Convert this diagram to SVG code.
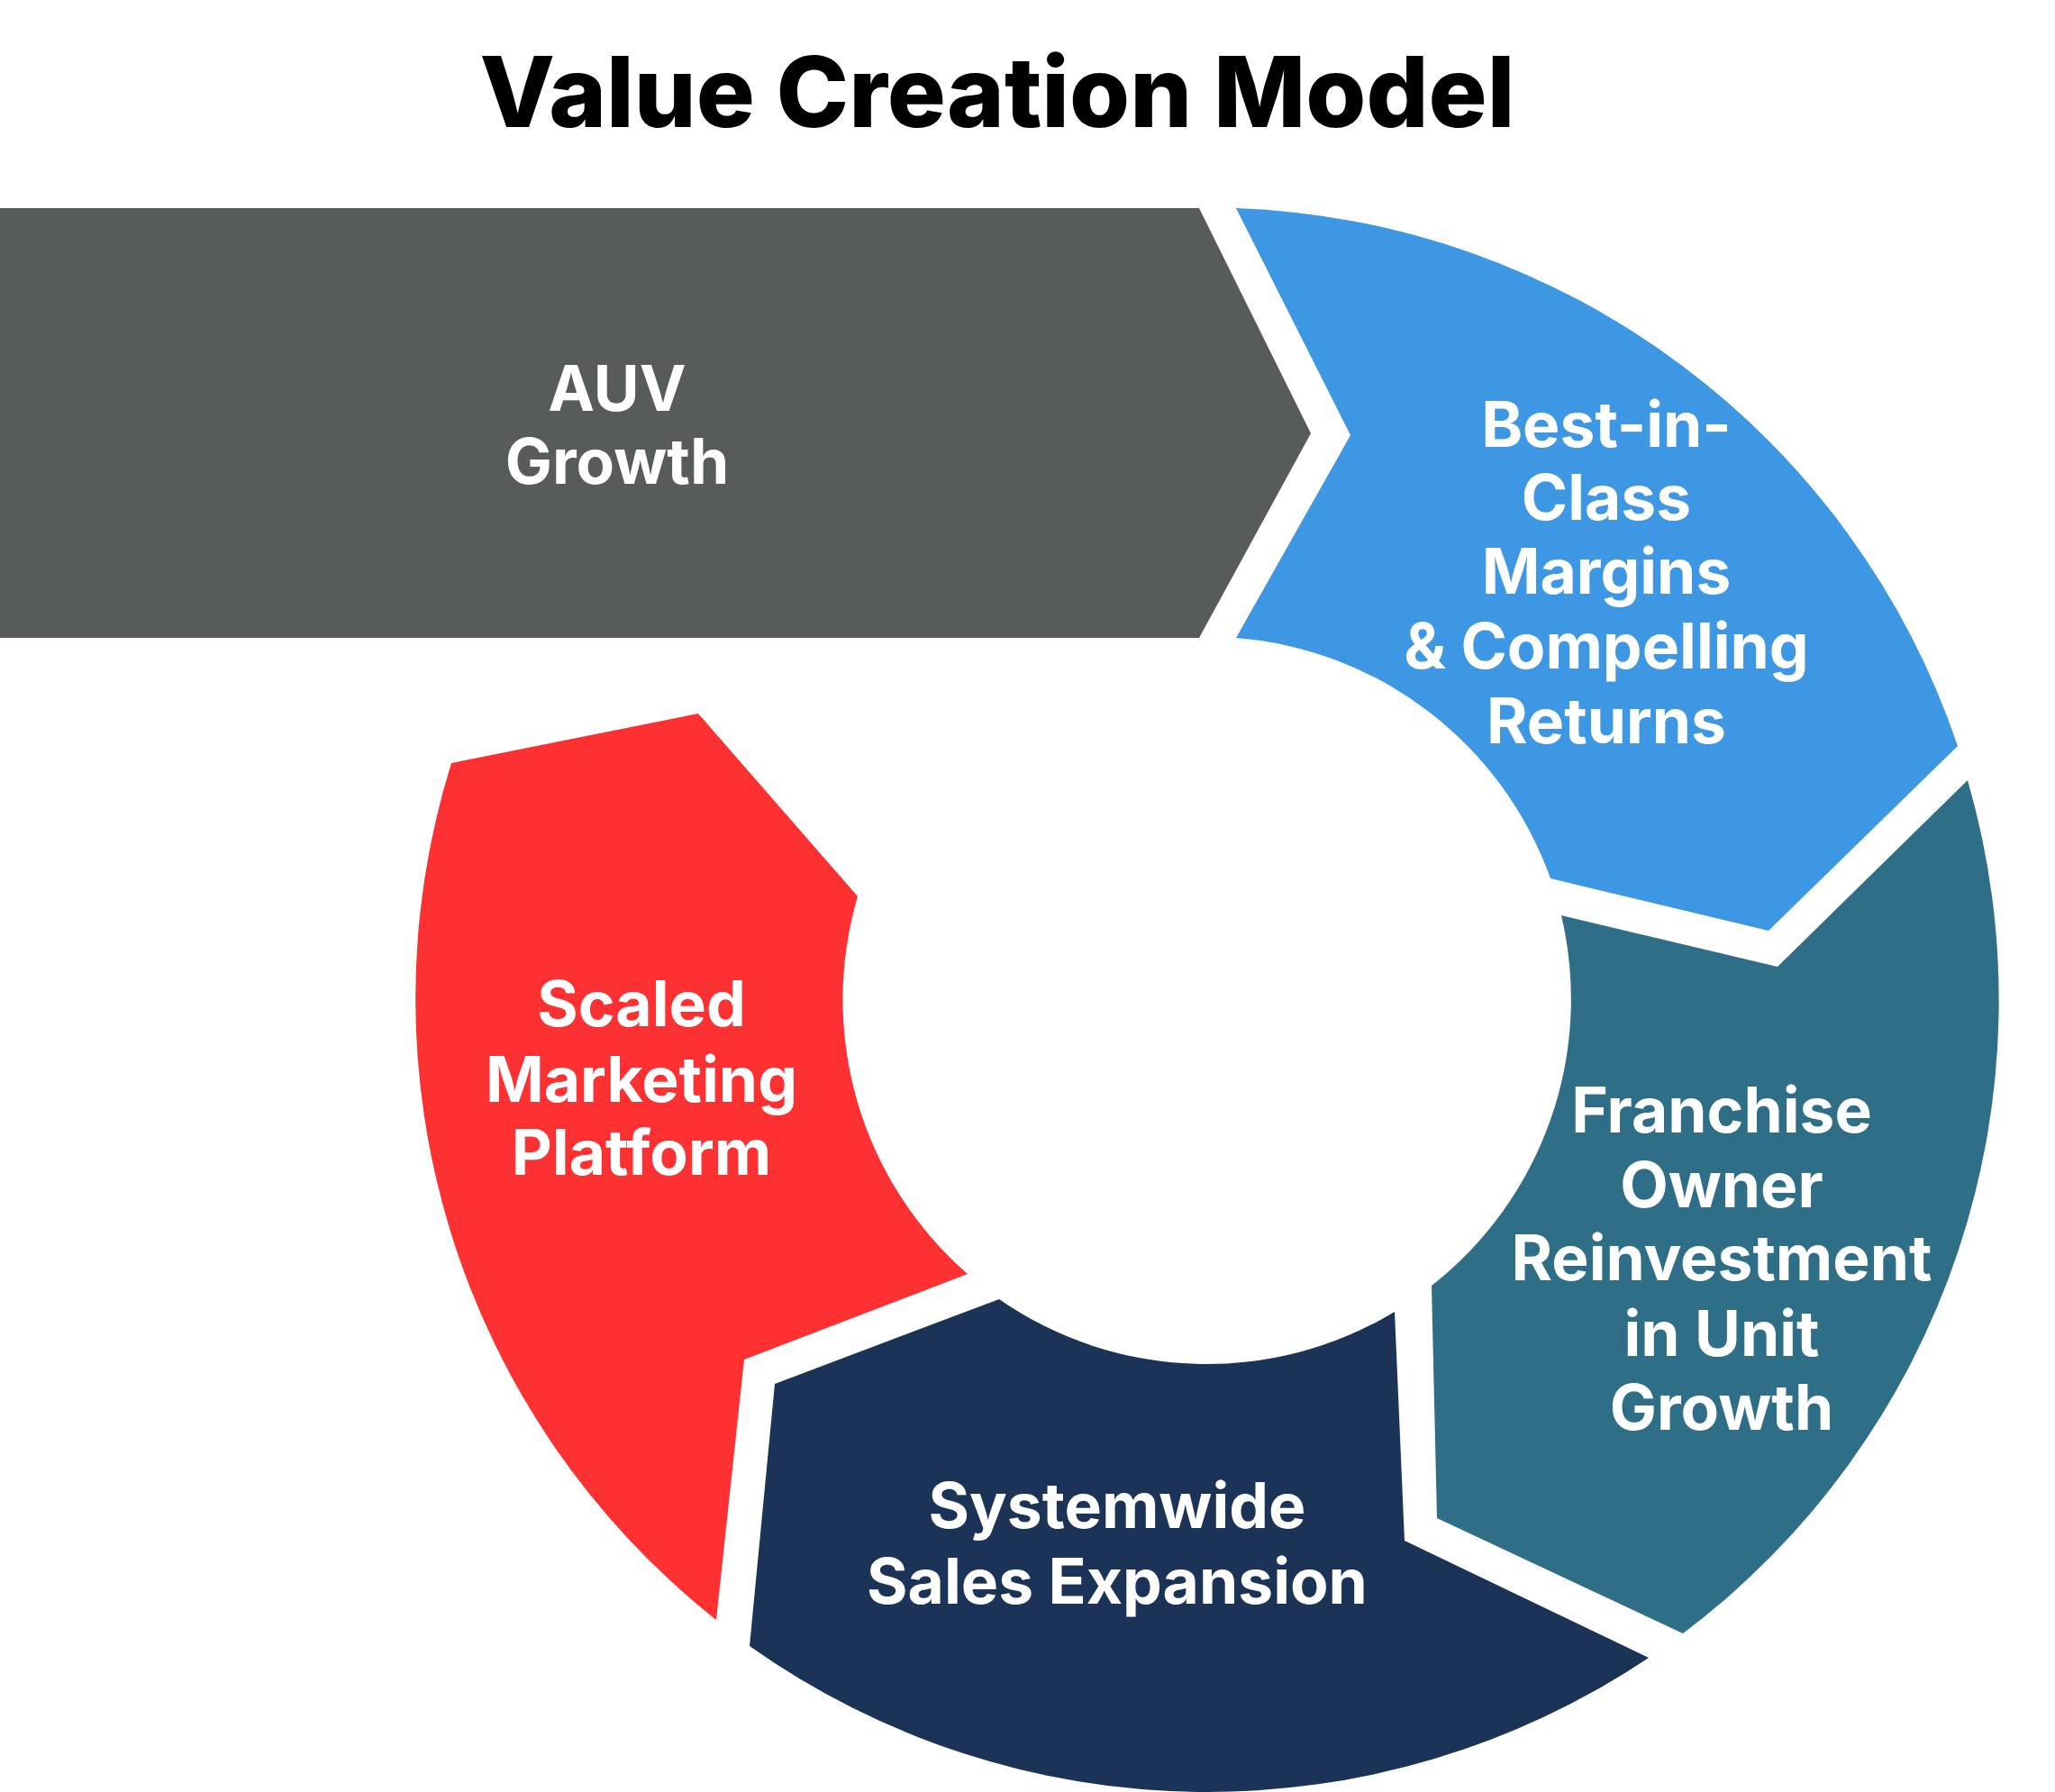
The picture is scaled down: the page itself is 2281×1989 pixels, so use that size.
<svg xmlns="http://www.w3.org/2000/svg" width="2281" height="1989" viewBox="0 0 2281 1989">
<style>
.lbl{font-family:Inter,"Liberation Sans",sans-serif;font-weight:700;font-size:69.5px;fill:#ffffff;text-anchor:middle}
.title{font-family:Inter,"Liberation Sans",sans-serif;font-weight:800;font-size:108.5px;fill:#000000;text-anchor:middle}
</style>
<rect width="2281" height="1989" fill="#ffffff"/>
<text class="title" x="1107" y="141">Value Creation Model</text>
<g id="auv-growth">
<path d="M0,231 L1331,231 L1455,481 L1331,708 L0,708 Z" fill="#585C58"/>
<text class="lbl" x="685" y="456">AUV</text>
<text class="lbl" x="685" y="537">Growth</text>
</g>
<g id="best-in-class">
<path d="M1372,231 A879,879 0 0,1 2173,828 L1963,1033 L1721,975 A404,404 0 0,0 1372,708 L1499,483 Z" fill="#3E97E2"/>
<text class="lbl" x="1783" y="496">Best-in-</text>
<text class="lbl" x="1783" y="577">Class</text>
<text class="lbl" x="1783" y="659">Margins</text>
<text class="lbl" x="1783" y="742">&amp; Compelling</text>
<text class="lbl" x="1783" y="825">Returns</text>
</g>
<g id="franchise-owner">
<path d="M2184,866 A879,879 0 0,1 1868,1813 L1595,1685 L1589,1427 A404,404 0 0,0 1733,1016 L1973,1073 Z" fill="#2E6E86"/>
<text class="lbl" x="1911" y="1257">Franchise</text>
<text class="lbl" x="1911" y="1340">Owner</text>
<text class="lbl" x="1911" y="1421">Reinvestment</text>
<text class="lbl" x="1911" y="1505">in Unit</text>
<text class="lbl" x="1911" y="1587">Growth</text>
</g>
<g id="systemwide-sales">
<path d="M1830,1840 A879,879 0 0,1 832,1827 L860,1536 L1109,1442 A404,404 0 0,0 1548,1456 L1559,1710 Z" fill="#1B3356"/>
<text class="lbl" x="1240" y="1696">Systemwide</text>
<text class="lbl" x="1240" y="1780">Sales Expansion</text>
</g>
<g id="scaled-marketing">
<path d="M795,1798 A879,879 0 0,1 501,847 L775,792 L952,995 A404,404 0 0,0 1074,1414 L826,1509 Z" fill="#FD3032"/>
<text class="lbl" x="712" y="1139">Scaled</text>
<text class="lbl" x="712" y="1223">Marketing</text>
<text class="lbl" x="712" y="1304">Platform</text>
</g>
<g id="connectors"></g>
</svg>
